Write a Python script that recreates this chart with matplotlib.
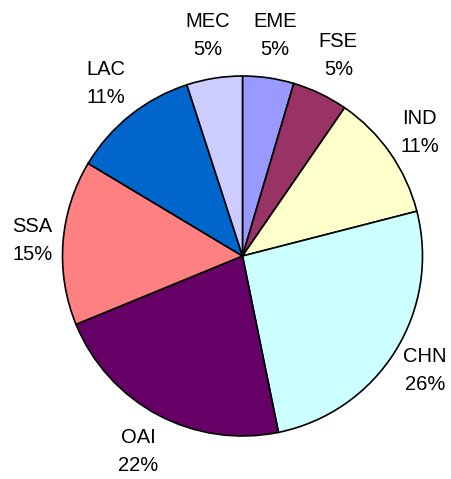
import matplotlib
matplotlib.use("Agg")
import matplotlib.pyplot as plt
import numpy as np

regions = ["EME", "FSE", "IND", "CHN", "OAI", "SSA", "LAC", "MEC"]
shares = [4.6, 5.0, 11.4, 25.8, 22.0, 14.8, 11.4, 5.0]
colors = ["#9999FF", "#993366", "#FFFFCC", "#CCFFFF",
          "#660066", "#FF8080", "#0066CC", "#CCCCFF"]

plt.rcParams['font.family'] = ['Liberation Sans', 'DejaVu Sans']

fig = plt.figure(figsize=(4.52, 4.79), dpi=100)
cx, cy, r = 242.5, 256, 180
ax = fig.add_axes([(cx - r) / 452, (479 - cy - r) / 479, 2 * r / 452, 2 * r / 479])

total = sum(shares)
wedges, _ = ax.pie(shares, colors=colors, startangle=90, counterclock=False,
                   wedgeprops=dict(edgecolor='black', linewidth=1.2))

# labels outside, pulled in a bit where the text sits beside the pie
for w, name, v in zip(wedges, regions, shares):
    ang = np.deg2rad((w.theta1 + w.theta2) / 2)
    d = 1.24 - 0.07 * abs(np.cos(ang)) ** 3
    ax.text(d * np.cos(ang), d * np.sin(ang),
            "{}\n{:.0f}%".format(name, v / total * 100),
            ha='center', va='center', fontsize=14.5, linespacing=1.6)

ax.set_xlim(-1, 1)
ax.set_ylim(-1, 1)

fig.savefig("out.png", dpi=100)
